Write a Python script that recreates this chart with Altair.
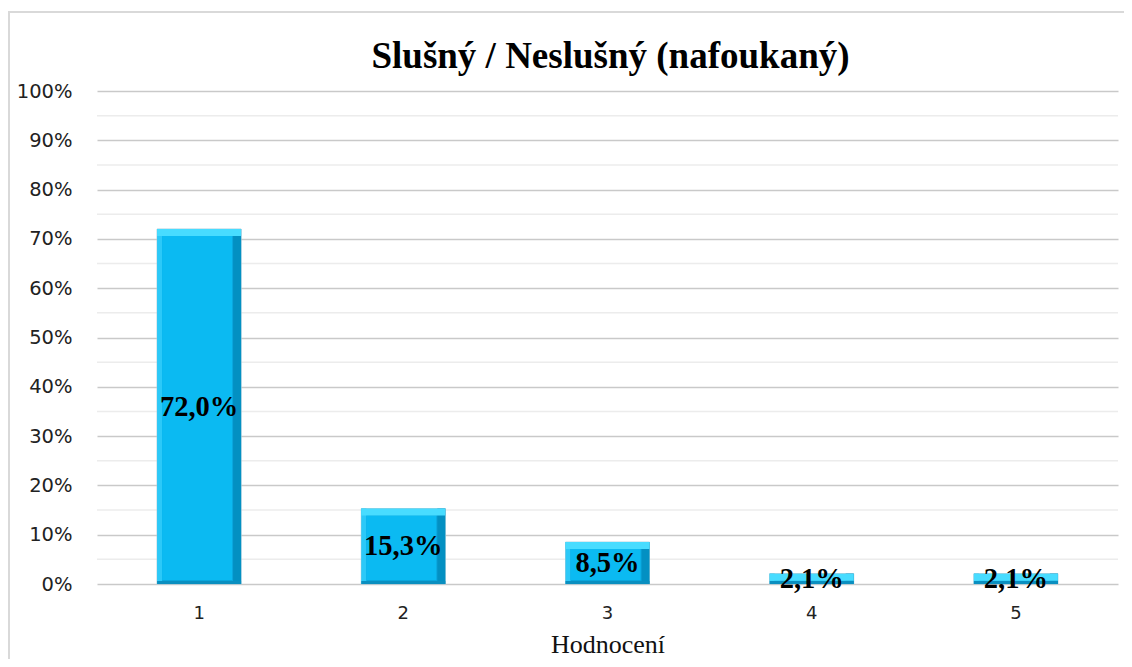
import altair as alt
import pandas as pd

categories = ["1", "2", "3", "4", "5"]
values = [0.720, 0.153, 0.085, 0.021, 0.021]
title_text = "Slušný / Neslušný (nafoukaný)"
x_title = "Hodnocení"

df = pd.DataFrame({"cat": categories, "v": values})

W, H = 1021, 493

y_scale = alt.Scale(domain=[0, 1], nice=False)
y_axis = alt.Axis(format=".0%", values=[i / 10 for i in range(11)], ticks=False,
                  domain=False, labelFont="DejaVu Sans", labelFontSize=19.5,
                  labelColor="#222", labelPadding=25, gridColor="#C9C9C9",
                  gridWidth=1.5, title=None)


def Y(field, **kw):
    return alt.Y(field, scale=y_scale, axis=y_axis, title=None, **kw)


x_axis = alt.Axis(labelAngle=0, ticks=False, domain=False,
                  labelFont="DejaVu Sans", labelFontSize=18, labelColor="#222",
                  labelPadding=20, titleFont="Liberation Serif",
                  titleFontSize=26, titleFontWeight="normal", titlePadding=9,
                  titleColor="#111")


def X():
    return alt.X("cat:N", title=x_title, sort=categories,
                 scale=alt.Scale(paddingInner=0, paddingOuter=0), axis=x_axis)


base = alt.Chart(df)

minor = alt.Chart(alt.sequence(0.05, 1.0, 0.1, as_="g")).mark_rule(
    color="#ECECEC", strokeWidth=1.5).encode(y=Y("g:Q"))

body = base.mark_bar(size=84, color="#0AA6DC", stroke="#A8CCDA", strokeWidth=1).encode(
    x=X(), y=Y("v:Q"))


def strip(size, xoff, color, **kw):
    return base.mark_bar(size=size, xOffset=xoff, color=color, **kw)


right = strip(8, 38, "#0390C2").encode(x=X(), y=Y("v:Q"))
left = strip(5, -39.5, "#2CC9F8").encode(x=X(), y=Y("v:Q"))
main = strip(70, -2, "#0BBAF2", yOffset=7, y2Offset=-4).encode(
    x=X(), y=Y("v:Q"), y2=alt.datum(0))
top = strip(84, 0, "#48DCFF", y2Offset=7).encode(x=X(), y=Y("v:Q"), y2="v")
bottom = strip(84, 0, "#0A8FC0", yOffset=-3).encode(
    x=X(), y=alt.Y(datum=0, scale=y_scale, axis=y_axis, title=None), y2=alt.datum(0))

labels = base.transform_calculate(
    mid="datum.v / 2",
    lab="replace(format(datum.v, '.1%'), '.', ',')",
).mark_text(font="Liberation Serif", fontSize=28.5, fontWeight="bold", color="black",
            baseline="middle", align="center").encode(
    x=X(), y=Y("mid:Q"), text="lab:N")

frame_df = pd.DataFrame({"t": [title_text]})
title = alt.Chart(frame_df).mark_text(
    font="Liberation Serif", fontSize=37, fontWeight="bold", color="black",
    baseline="alphabetic", align="center").encode(
    x=alt.value(W / 2 + 3), y=alt.value(-23), text="t:N")
top_line = alt.Chart(frame_df).mark_rule(color="#D9D9D9", strokeWidth=2).encode(
    x=alt.value(-89), x2=alt.value(W + 6), y=alt.value(-79))
left_line = alt.Chart(frame_df).mark_rule(color="#D9D9D9", strokeWidth=2).encode(
    x=alt.value(-88), y=alt.value(-80), y2=alt.value(H + 80))

chart = alt.layer(minor, body, right, left, main, top, bottom, labels, title,
                  top_line, left_line).properties(
    width=W, height=H,
    padding={"left": 89, "top": 83, "right": 6, "bottom": 75},
    autosize=alt.AutoSizeParams(type="none"),
    background="white",
).configure_view(strokeWidth=0, stroke=None)

chart.save("out.html", embed_options={"renderer": "svg", "actions": False})
